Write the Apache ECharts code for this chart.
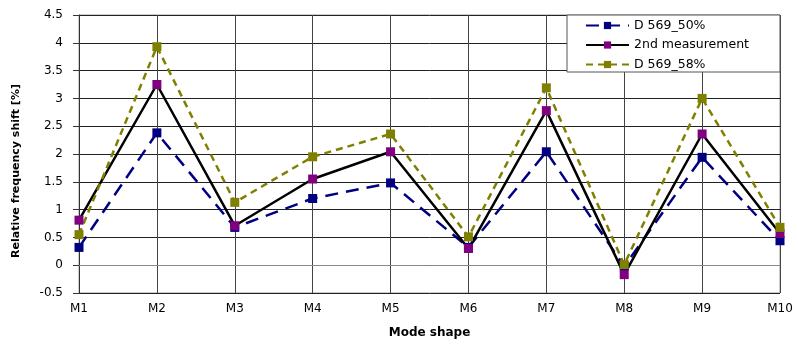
<!DOCTYPE html>
<html><head><meta charset="utf-8">
<script src="https://cdn.jsdelivr.net/npm/echarts@6/dist/echarts.min.js"></script>
<style>html,body{margin:0;padding:0;background:#fff}#c{width:798px;height:344px}</style>
</head><body><div id="c"></div>
<script>
const categories = ['M1','M2','M3','M4','M5','M6','M7','M8','M9','M10'];
const d50 = [0.32, 2.38, 0.68, 1.20, 1.48, 0.32, 2.04, -0.02, 1.94, 0.44];
const second = [0.81, 3.25, 0.71, 1.55, 2.04, 0.30, 2.78, -0.17, 2.36, 0.57];
const d58 = [0.55, 3.93, 1.13, 1.95, 2.36, 0.51, 3.19, 0.01, 3.00, 0.68];
const yTicks = [-0.5, 0, 0.5, 1, 1.5, 2, 2.5, 3, 3.5, 4, 4.5];

const font = 'DejaVu Sans, Liberation Sans, Arial, sans-serif';
const chart = echarts.init(document.getElementById('c'));
chart.setOption({
  animation: false,
  backgroundColor: '#fff',
  grid: { left: 79, right: 18, top: 15, bottom: 46, show: true, borderColor: '#999', borderWidth: 1 },
  legend: {
    orient: 'vertical', left: 567, top: 15,
    padding: [3, 31, 0, 18], itemGap: 4.5, itemWidth: 43, itemHeight: 9,
    backgroundColor: '#fff', borderColor: '#555', borderWidth: 1,
    textStyle: { fontFamily: font, fontSize: 12.5, color: '#000', lineHeight: 15 },
    data: ['D 569_50%', '2nd measurement', 'D 569_58%']
  },
  xAxis: {
    type: 'category', data: categories, boundaryGap: false,
    name: 'Mode shape', nameLocation: 'middle', nameGap: 34,
    nameTextStyle: { fontFamily: font, fontSize: 12, fontWeight: 'bold', color: '#000' },
    axisLine: { lineStyle: { color: '#888', width: 1 } },
    axisTick: { show: false },
    axisLabel: { fontFamily: font, fontSize: 12, color: '#000', margin: 10 },
    splitLine: { show: true, lineStyle: { color: '#444', width: 1 } }
  },
  yAxis: {
    type: 'value', min: yTicks[0], max: yTicks[yTicks.length - 1], interval: 0.5,
    name: 'Relative frequency shift [%]', nameLocation: 'middle', nameGap: 57,
    nameTextStyle: { fontFamily: font, fontSize: 11, fontWeight: 'bold', color: '#000', padding: [0, 34, 0, 0] },
    axisLine: { show: true, lineStyle: { color: '#333', width: 1 } },
    axisTick: { show: true, length: 6, lineStyle: { color: '#333' } },
    axisLabel: { fontFamily: font, fontSize: 12, color: '#000', margin: 16 },
    splitLine: { show: true, lineStyle: { color: '#222', width: 1 } }
  },
  series: [
    { name: 'D 569_50%', type: 'line', data: d50, symbol: 'rect', symbolSize: 9,
      itemStyle: { color: '#000080' },
      lineStyle: { color: '#000080', width: 2.5, type: [13, 8] } },
    { name: '2nd measurement', type: 'line', data: second, symbol: 'rect', symbolSize: 9,
      itemStyle: { color: '#800080' },
      lineStyle: { color: '#000', width: 2.5 } },
    { name: 'D 569_58%', type: 'line', data: d58, symbol: 'rect', symbolSize: 9,
      itemStyle: { color: '#808000' },
      lineStyle: { color: '#808000', width: 2.5, type: [7, 5] } }
  ]
});
</script></body></html>
